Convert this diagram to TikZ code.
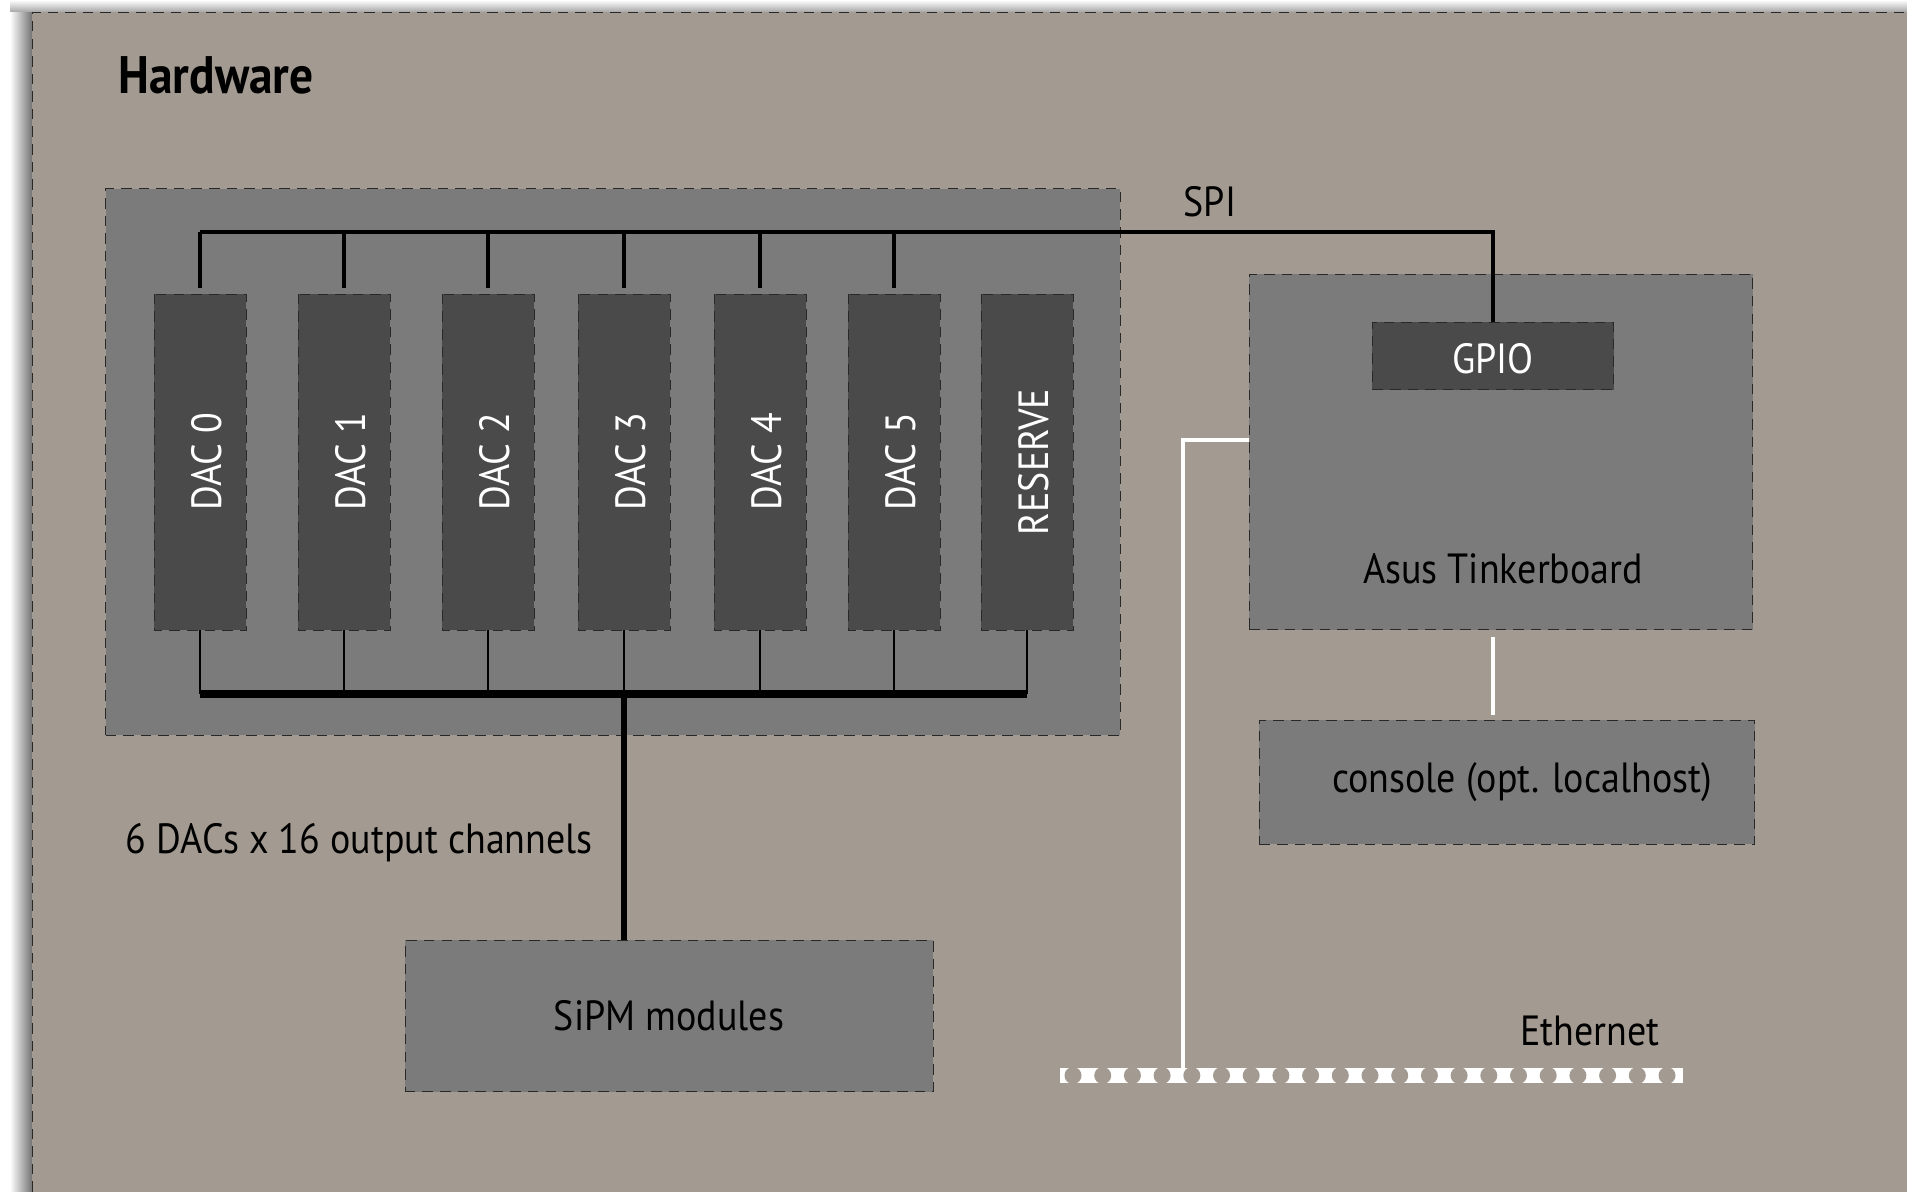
\documentclass[tikz,border=0pt]{standalone}
\usepackage{fontspec}
\setmainfont[FakeStretch=0.9]{PT Sans}
\usetikzlibrary{positioning}

\definecolor{bggray}{RGB}{163,155,146}
\definecolor{boardgray}{RGB}{123,123,123}
\definecolor{chipgray}{RGB}{74,74,74}
\definecolor{edgegray}{RGB}{40,40,40}

\begin{document}
\begin{tikzpicture}[
  x=0.01cm, y=-0.01cm,
  font=\fontsize{12}{14}\selectfont,
  board/.style={
    draw=edgegray, densely dashed, very thin,
    fill=boardgray, inner sep=0pt,
  },
  chip/.style={
    board, fill=chipgray, text=white,
  },
  dac/.style={
    chip, rotate=90, text height=2.4ex, text depth=0pt,
    minimum width=3.36cm, minimum height=0.92cm,
  },
  spiline/.style={line width=1.05pt, black},
  drop/.style={line width=0.75pt, black},
  outbus/.style={line width=2pt, black},
  trunk/.style={line width=1.6pt, black},
  lan/.style={line width=0.9pt, white},
  ann/.style={inner sep=1pt},
]
\useasboundingbox (0,0) rectangle (1907,1192);

% background sheet with its shadow
\shade[left color=white, right color=black!55] (10,8) rectangle (32,1192);
\shade[top color=white, bottom color=black!35] (10,0) rectangle (1907,12);
\fill[bggray] (32,12) rectangle (1907,1192);
\draw[edgegray, densely dashed, very thin] (32,1192) -- (32,12) -- (1907,12);

\node[font=\bfseries\fontsize{15}{18}\selectfont, anchor=west] (title) at (106,75) {Hardware};

% DAC crate
\node[board, minimum width=10.14cm, minimum height=5.46cm] (crate) at (613,462) {};
\foreach \cx/\id/\lbl in {200/0/DAC 0, 344/1/DAC 1, 488/2/DAC 2, 624/3/DAC 3,
                          760/4/DAC 4, 894/5/DAC 5, 1027/6/RESERVE}
  \node[dac] (dac\id) at (\cx,462) {\lbl};

% Tinkerboard side
\node[board, minimum width=5.03cm, minimum height=3.55cm] (tinker) at (1501,452) {};
\node[chip, minimum width=2.41cm, minimum height=0.67cm, text height=2ex, text depth=0pt] (gpio) at (1493,356) {GPIO};
\node[ann] (tinkerlbl) at (1503,569) {Asus Tinkerboard};
\node[board, minimum width=4.95cm, minimum height=1.24cm] (console) at (1507,782) {\hspace{0.3cm}console (opt. localhost)};
\node[board, minimum width=5.28cm, minimum height=1.51cm] (sipm) at (669,1016) {SiPM modules};

% SPI bus
\coordinate (spiy) at (0,232);
\draw[spiline] (dac0.east |- spiy) -- (gpio.north |- spiy) -- (gpio.north);
\foreach \id in {0,...,5}
  \draw[spiline, shorten >=1.5pt] (dac\id.east |- spiy) -- (dac\id.east);
\node[ann] (spi) at (1210,202) {SPI};

% output channels
\coordinate (outy) at (0,694);
\foreach \id in {0,...,6}
  \draw[drop] (dac\id.west) -- (dac\id.west |- outy);
\draw[outbus] (dac0.west |- outy) -- (dac6.west |- outy);
\draw[trunk] (dac3.west |- outy) -- (dac3.west |- sipm.north);
\node[ann, anchor=east] (chans) at (597,843) {6 DACs x 16 output channels};

% network
\draw[lan, shorten <=2pt, shorten >=1.2pt] (gpio.north |- tinker.south) -- (gpio.north |- console.north);
\fill[white] (1060,1068) rectangle (1683,1083);
\foreach \k in {0,...,20}
  \fill[bggray] (1073+29.7*\k,1075.5) circle (0.085cm);
\coordinate (ethtap) at (1183,1068);
\draw[lan] ([yshift=3.4pt]tinker.west) -| (ethtap);
\node[ann] (ethlbl) at (1590,1031) {Ethernet};

\end{tikzpicture}
\end{document}
